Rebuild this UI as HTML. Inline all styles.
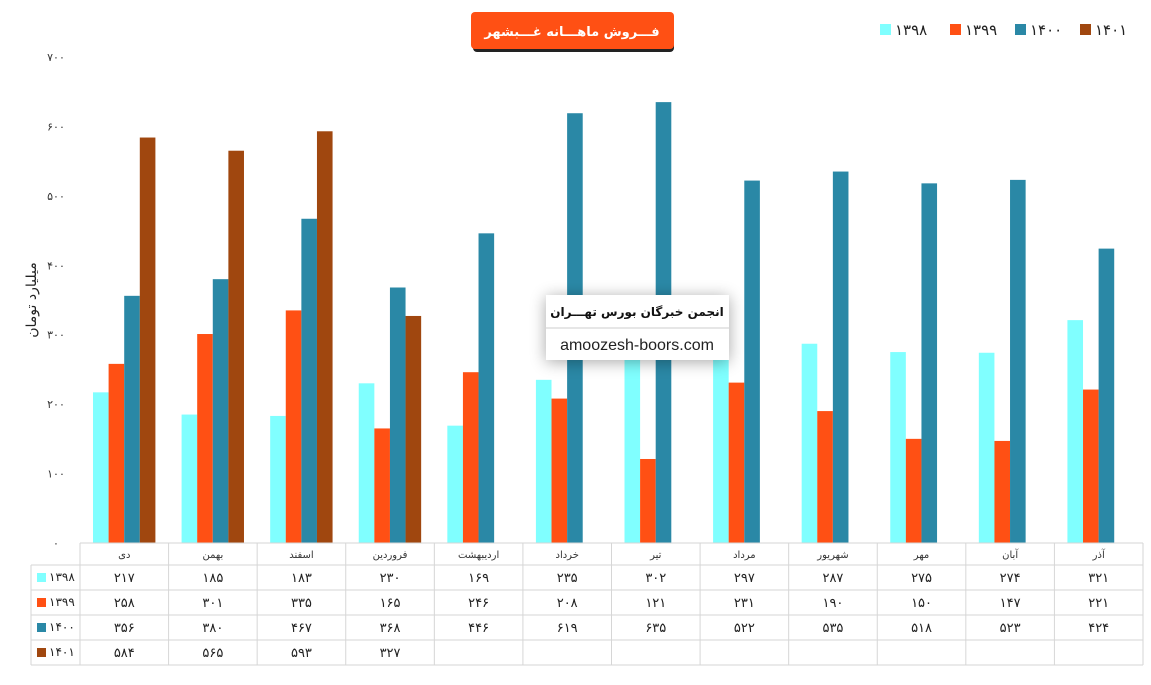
<!DOCTYPE html>
<html><head><meta charset="utf-8"><style>
body{margin:0;background:#fff;width:1151px;height:680px;overflow:hidden;font-family:"Liberation Sans","Noto Sans CJK SC",sans-serif}
</style></head><body>
<svg id="s" width="1151" height="680" xmlns="http://www.w3.org/2000/svg" font-family="'DejaVu Sans','Liberation Sans',sans-serif">
<defs>
<filter id="sh" x="-20%" y="-30%" width="140%" height="170%"><feGaussianBlur in="SourceAlpha" stdDeviation="8"/><feOffset dy="2"/><feComponentTransfer><feFuncA type="linear" slope="0.35"/></feComponentTransfer><feMerge><feMergeNode/><feMergeNode in="SourceGraphic"/></feMerge></filter>
</defs>
<g id="g"></g>
</svg>
<script>
const fa=n=>String(n).replace(/\d/g,d=>'۰۱۲۳۴۵۶۷۸۹'[d]);
const cats=['دی','بهمن','اسفند','فروردین','اردیبهشت','خرداد','تیر','مرداد','شهریور','مهر','آبان','آذر'];
const data=[[217,185,183,230,169,235,302,297,287,275,274,321],[258,301,335,165,246,208,121,231,190,150,147,221],[356,380,467,368,446,619,635,522,535,518,523,424],[584,565,593,327]];
const cols=['#80FFFF','#FF5014','#2A88A6','#A0470F'];
const names=['1398','1399','1400','1401'];
let h='';
const x0=80,x1=1143,cw=(x1-x0)/12,y0=543,k=0.6943;
for(let v=0;v<=700;v+=100){h+=`<text x="56" y="${y0-v*k+4}" font-size="11" text-anchor="middle" fill="#333">${fa(v)}</text>`;}
h+=`<text transform="translate(36,300) rotate(-90)" font-size="14" text-anchor="middle" fill="#222">میلیارد تومان</text>`;
for(let c=0;c<12;c++){for(let s=0;s<4;s++){const v=data[s][c];if(v==null)continue;const bh=v*k;h+=`<rect x="${x0+c*cw+13+s*15.6}" y="${y0-bh}" width="15.6" height="${bh}" fill="${cols[s]}"/>`;}}
const rows=[543,565,590,615,640,665];
h+=`<g stroke="#d6d6d6" stroke-width="1" fill="none">`;
h+=`<line x1="${x0}" y1="543" x2="${x1}" y2="543"/>`;
for(let i=1;i<rows.length;i++)h+=`<line x1="31" y1="${rows[i]}" x2="${x1}" y2="${rows[i]}"/>`;
h+=`<line x1="31" y1="565" x2="31" y2="665"/>`;
for(let c=0;c<=12;c++)h+=`<line x1="${x0+c*cw}" y1="543" x2="${x0+c*cw}" y2="665"/>`;
h+=`</g>`;
for(let c=0;c<12;c++){h+=`<text x="${x0+c*cw+cw/2}" y="558" font-size="10" text-anchor="middle" fill="#333">${cats[c]}</text>`;
for(let s=0;s<4;s++){const v=data[s][c];if(v==null)continue;h+=`<text x="${x0+c*cw+cw/2}" y="${rows[s+1]+17}" font-size="13" text-anchor="middle" fill="#222">${fa(v)}</text>`;}}
for(let s=0;s<4;s++){h+=`<rect x="37" y="${rows[s+1]+8}" width="9" height="9" fill="${cols[s]}"/><text x="49" y="${rows[s+1]+16}" font-size="12" fill="#222">${fa(names[s])}</text>`;}
const lx=[880,950,1015,1080];
for(let s=0;s<4;s++){h+=`<rect x="${lx[s]}" y="24" width="11" height="11" fill="${cols[s]}"/><text x="${lx[s]+15}" y="35" font-size="15" fill="#222">${fa(names[s])}</text>`;}
h+=`<rect x="473" y="16" width="201" height="36" rx="4" fill="#222"/><rect x="471" y="12" width="203" height="37" rx="4" fill="#FF5014"/><text x="572" y="36" font-size="13" font-weight="bold" text-anchor="middle" fill="#fff">فـــروش ماهـــانه غـــبشهر</text>`;
h+=`<g filter="url(#sh)"><rect x="546" y="295" width="183" height="65" fill="#fff"/></g><line x1="546" y1="328" x2="729" y2="328" stroke="#ccc"/><text x="637" y="316" font-size="12" font-weight="bold" text-anchor="middle" fill="#111">انجمن خبرگان بورس تهـــران</text><text x="637" y="350" font-size="16" text-anchor="middle" fill="#222" font-family="'Liberation Sans',sans-serif">amoozesh-boors.com</text>`;
document.getElementById('g').innerHTML=h;
</script>
</body></html>
